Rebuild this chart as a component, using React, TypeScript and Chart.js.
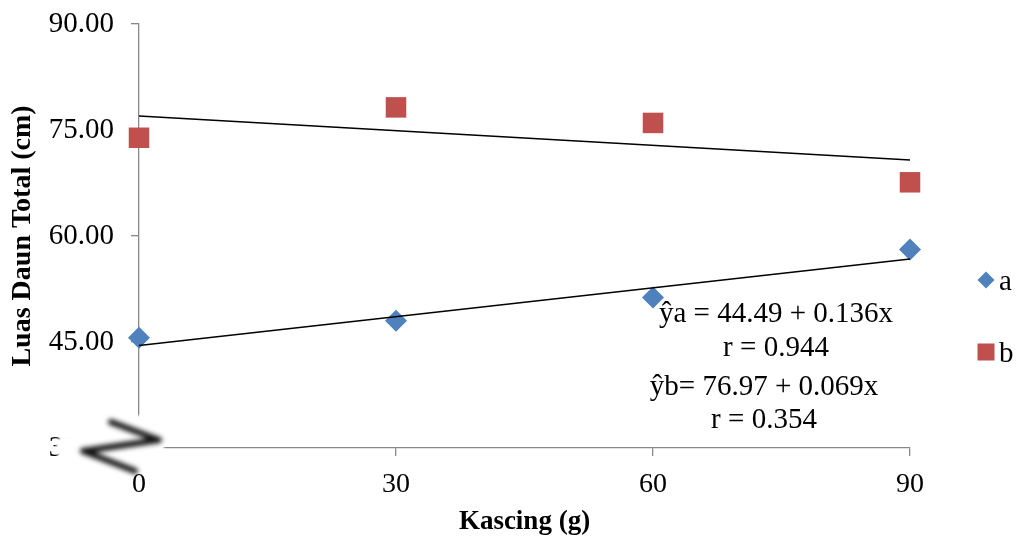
import React, { useEffect, useRef } from "react";
import { Chart, registerables } from "chart.js";

Chart.register(...registerables);

const xValues = [0, 30, 60, 90];
const seriesA = [45.6, 48.0, 51.3, 58.1];
const seriesB = [73.9, 78.2, 76.0, 67.6];
const trendX = [0, 90];
const trendA = [44.49, 56.73];
const trendB = [76.97, 70.76];
const yTicks = [30, 45, 60, 75, 90];
const xTicks = [0, 30, 60, 90];
const equationA = ["ŷa = 44.49 + 0.136x", "r = 0.944"];
const equationB = ["ŷb= 76.97 + 0.069x", "r = 0.354"];
const seriesLabels = ["a", "b"];

const BLUE = "#4F81BD";
const RED = "#C0504D";
const SERIF = "'Liberation Serif', 'Times New Roman', serif";

const overlayPlugin = {
  id: "overlay",
  afterDraw(chart: any) {
    const ctx = chart.ctx as CanvasRenderingContext2D;
    // axis break patch
    ctx.save();
    ctx.filter = "blur(1.5px)";
    ctx.fillStyle = "#ffffff";
    ctx.beginPath();
    ctx.moveTo(56, 440);
    ctx.lineTo(150, 413);
    ctx.lineTo(166, 455);
    ctx.lineTo(78, 486);
    ctx.lineTo(60, 462);
    ctx.closePath();
    ctx.fill();
    ctx.fill();
    ctx.restore();
    ctx.save();
    ctx.filter = "blur(2.5px)";
    ctx.strokeStyle = "#111111";
    ctx.lineWidth = 6;
    ctx.lineCap = "round";
    ctx.lineJoin = "round";
    ctx.beginPath();
    ctx.moveTo(111, 422);
    ctx.lineTo(159, 440);
    ctx.lineTo(83, 451);
    ctx.lineTo(135, 471);
    ctx.stroke();
    ctx.restore();

    // equations
    ctx.save();
    ctx.fillStyle = "#000";
    ctx.font = `29px ${SERIF}`;
    ctx.textAlign = "center";
    ctx.textBaseline = "alphabetic";
    ctx.fillText(equationA[0], 776, 322);
    ctx.fillText(equationA[1], 776, 356);
    ctx.fillText(equationB[0], 764, 395);
    ctx.fillText(equationB[1], 764, 428);
    ctx.restore();

    // legend
    ctx.save();
    ctx.fillStyle = BLUE;
    ctx.beginPath();
    ctx.moveTo(986, 271.5);
    ctx.lineTo(994.5, 280);
    ctx.lineTo(986, 288.5);
    ctx.lineTo(977.5, 280);
    ctx.closePath();
    ctx.fill();
    ctx.fillStyle = RED;
    ctx.fillRect(977.5, 343.5, 17, 17);
    ctx.fillStyle = "#000";
    ctx.font = `29px ${SERIF}`;
    ctx.textAlign = "left";
    ctx.textBaseline = "alphabetic";
    ctx.fillText(seriesLabels[0], 999, 290);
    ctx.fillText(seriesLabels[1], 999, 362);
    ctx.restore();
  },
};

export default function App() {
  const ref = useRef<HTMLCanvasElement>(null);
  useEffect(() => {
    document.body.style.margin = "0";
    const chart = new Chart(ref.current as HTMLCanvasElement, {
      type: "scatter",
      data: {
        datasets: [
          {
            label: "trend a",
            data: trendX.map((x, i) => ({ x, y: trendA[i] })),
            showLine: true,
            borderColor: "#000",
            borderWidth: 1.5,
            pointRadius: 0,
            order: 0,
            clip: false,
          } as any,
          {
            label: "trend b",
            data: trendX.map((x, i) => ({ x, y: trendB[i] })),
            showLine: true,
            borderColor: "#000",
            borderWidth: 1.5,
            pointRadius: 0,
            order: 0,
            clip: false,
          },
          {
            label: seriesLabels[0],
            data: xValues.map((x, i) => ({ x, y: seriesA[i] })),
            pointStyle: "rectRot",
            pointRadius: 11,
            backgroundColor: BLUE,
            borderColor: BLUE,
            borderWidth: 0,
            order: 1,
            clip: false,
          },
          {
            label: seriesLabels[1],
            data: xValues.map((x, i) => ({ x, y: seriesB[i] })),
            pointStyle: "rect",
            pointRadius: 14.5,
            backgroundColor: RED,
            borderColor: RED,
            borderWidth: 0,
            order: 1,
            clip: false,
          },
        ],
      },
      options: {
        animation: false,
        responsive: true,
        maintainAspectRatio: false,
        layout: { padding: { left: 4, right: 112, top: 24, bottom: 0 } },
        plugins: { legend: { display: false }, tooltip: { enabled: false } },
        scales: {
          x: {
            type: "linear",
            min: 0,
            max: 90,
            afterBuildTicks: (s: any) => {
              s.ticks = xTicks.map((v) => ({ value: v }));
            },
            afterFit: (s: any) => {
              s.height = 93;
              s.paddingLeft = 0;
              s.paddingRight = 0;
            },
            ticks: {
              color: "#000",
              font: { family: SERIF, size: 28 },
              padding: 12,
              callback: (v: any) => String(v),
            },
            grid: { drawOnChartArea: false, drawTicks: true, tickLength: 8, color: "#888888", lineWidth: 1.3 },
            border: { color: "#888888", width: 1.3 },
            title: {
              display: true,
              text: "Kascing (g)",
              color: "#000",
              font: { family: SERIF, size: 27, weight: "bold" },
              padding: { top: 0, bottom: 3 },
            },
          },
          y: {
            type: "linear",
            min: 30,
            max: 90,
            afterBuildTicks: (s: any) => {
              s.ticks = yTicks.map((v) => ({ value: v }));
            },
            afterFit: (s: any) => {
              s.width = 135;
              s.paddingTop = 0;
              s.paddingBottom = 0;
            },
            ticks: {
              color: "#000",
              font: { family: SERIF, size: 29 },
              padding: 17,
              callback: (v: any) => Number(v).toFixed(2),
            },
            grid: { drawOnChartArea: false, drawTicks: true, tickLength: 8, color: "#888888", lineWidth: 1.3 },
            border: { color: "#888888", width: 1.3 },
            title: {
              display: true,
              text: "Luas Daun Total (cm)",
              color: "#000",
              font: { family: SERIF, size: 28, weight: "bold" },
              padding: { top: 2, bottom: 0 },
            },
          },
        },
      },
      plugins: [overlayPlugin],
    });
    return () => chart.destroy();
  }, []);
  return (
    <div style={{ position: "fixed", left: 0, top: 0, width: 1022, height: 541 }}>
      <canvas ref={ref} />
    </div>
  );
}
